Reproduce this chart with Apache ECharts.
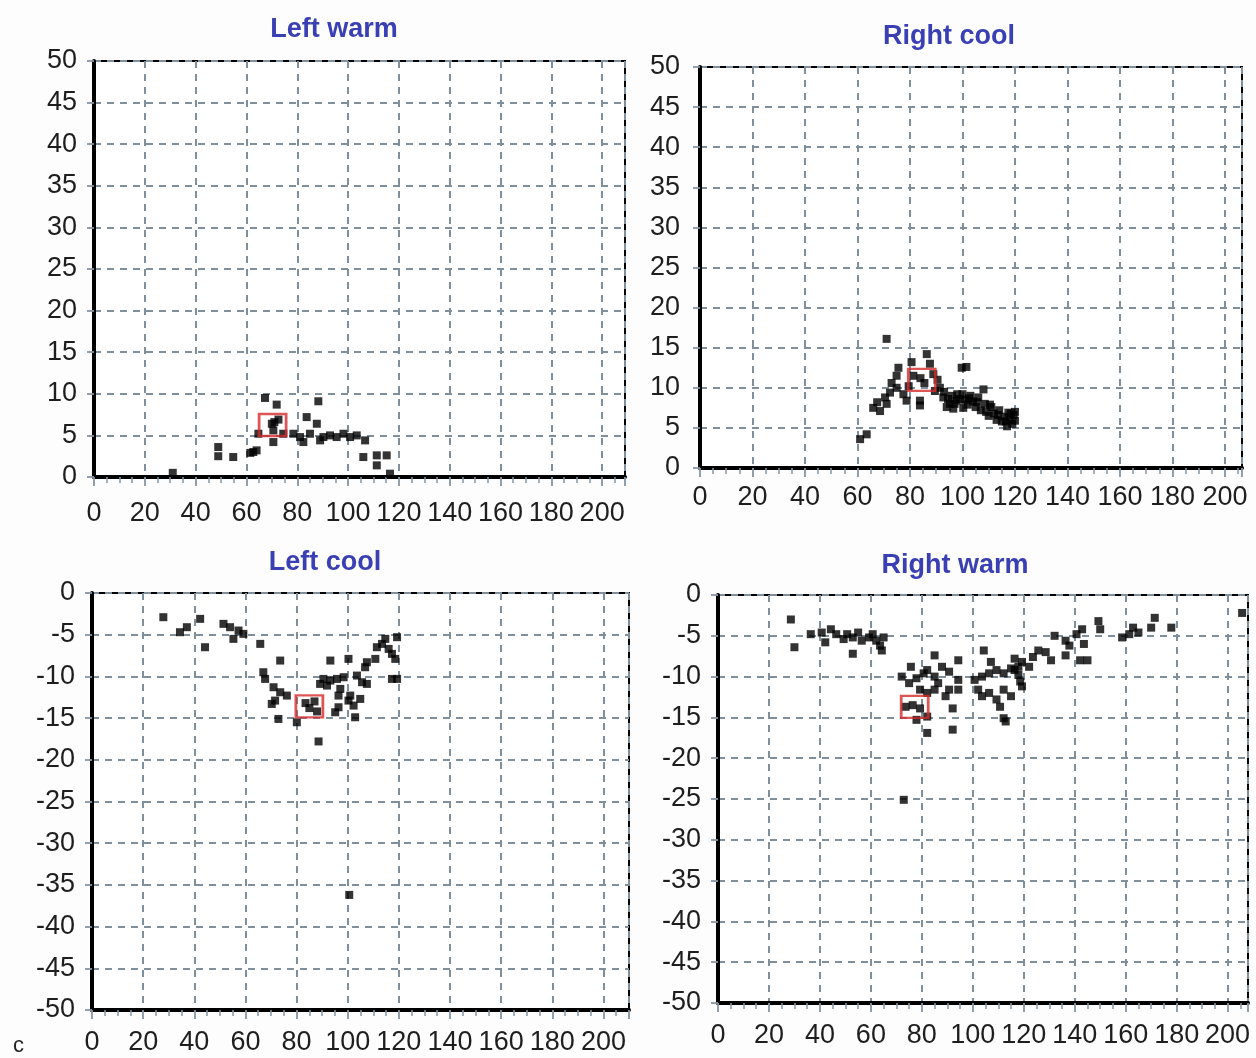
<!DOCTYPE html>
<html>
<head>
<meta charset="utf-8">
<script src="https://cdn.jsdelivr.net/npm/echarts@6/dist/echarts.min.js"></script>
<style>
html,body{margin:0;padding:0;background:#fdfdfd;}
#c{width:1256px;height:1058px;}
</style>
</head>
<body>
<div id="c"></div>
<script>
// ---------- DATA ----------
const panelTitles = ['Left warm', 'Right cool', 'Left cool', 'Right warm'];
const xTicks = [0, 20, 40, 60, 80, 100, 120, 140, 160, 180, 200];

const leftWarm = [
  [31, 0.5], [48.9, 3.6], [48.9, 2.5], [54.8, 2.4], [61.5, 2.9], [62.7, 3.0], [64, 3.2],
  [67.3, 9.5], [71.9, 8.7], [64.7, 5.2], [70, 6.4], [72.6, 6.9], [70.6, 5.6], [70.6, 4.2],
  [71, 6.6], [74.5, 5.2], [78.5, 5.2], [81.1, 4.8], [82.4, 4.2], [85, 5.2], [83.7, 7.2],
  [87.7, 6.4], [88.3, 9.1], [89, 4.4], [90.3, 4.8], [92.9, 5.0], [95.5, 4.8], [98.2, 5.2],
  [100.8, 4.8], [103.4, 5.0], [106.7, 4.4], [106, 2.4], [111.3, 2.6], [115.2, 2.6],
  [111.3, 1.4], [116.5, 0.4]
];
const rightCool = [
  [71.1, 16.1], [61, 3.6], [63.5, 4.2], [66, 7.5], [68.6, 7.1], [71.1, 8.0], [70.5, 8.8],
  [72.4, 9.4], [74.9, 10], [74.9, 11.5], [75.6, 12.5], [77.5, 9.2], [78.7, 8.4], [80.6, 13.2],
  [81.3, 11.5], [83.8, 8.4], [83.8, 7.8], [86.4, 14.2], [87.6, 13], [88.9, 11.7], [84, 11.2],
  [85.5, 10.6], [91.4, 10], [92.7, 8.8], [95.2, 8.0], [97.8, 8.4], [100.3, 7.5], [99.7, 12.5],
  [101.5, 12.6], [93, 9.5], [94, 7.6], [96, 9.0], [97, 8.0], [98, 9.2], [99, 8.6],
  [100, 9.2], [101, 8.5], [102, 7.9], [103, 9.0], [104, 8.3], [105, 7.6], [106, 8.8],
  [107, 7.2], [108, 9.8], [108.5, 8.0], [109, 7.0], [110, 6.5], [111, 7.6], [112, 6.8],
  [113, 6.0], [114, 7.2], [115, 5.8], [116, 6.4], [117, 5.2], [117.5, 6.9], [118, 6.0],
  [119, 5.5], [119.5, 6.6], [120, 5.9], [120, 7.0], [67.5, 8.2], [73, 10.6], [79.5, 10.2],
  [89.5, 9.6], [90.5, 11.0], [94.5, 8.6], [96.5, 7.4], [102.5, 8.7], [105.5, 8.2], [110.5, 7.9],
  [113.5, 6.6], [116.5, 5.8], [118.5, 6.8]
];
const leftCool = [
  [27.9, -2.9], [34.4, -4.7], [37.1, -4.1], [42.3, -3.1], [44.2, -6.5], [51.4, -3.7], [54, -4.1],
  [55.3, -5.5], [57.3, -4.5], [59.2, -4.9], [65.8, -6.1], [67, -9.5], [67.7, -10.3], [73.6, -8.1],
  [71, -11.3], [73.6, -11.9], [76.2, -12.3], [70.3, -13.3], [71.6, -12.9], [72.9, -15.1],
  [80.1, -15.5], [83.5, -13.2], [85, -13.8], [87, -13.0], [88, -14.2], [88.6, -17.8],
  [89.2, -10.9], [90.5, -10.3], [91.9, -11.1], [93.2, -10.5], [93.2, -8.1], [95.8, -10.3],
  [97.1, -11.5], [98.4, -10.1], [96.4, -12.3], [95.1, -14.3], [96.4, -13.7], [100.3, -7.9],
  [101, -12.3], [100.3, -12.9], [102.3, -13.5], [102.9, -14.9], [103.6, -9.9], [105.6, -10.7],
  [104.9, -12.7], [107.5, -10.9], [106.8, -8.9], [107.5, -8.3], [110.8, -7.9], [111.4, -6.5],
  [113.4, -6.1], [114.7, -5.5], [116, -6.7], [117.3, -7.3], [118.6, -7.9], [119.3, -5.3],
  [117.3, -10.3], [119.3, -10.3], [100.6, -36.2]
];
const rightWarm = [
  [28.6, -3.0], [30, -6.4], [36.4, -4.8], [40.7, -4.6], [42.1, -5.8], [44.3, -4.2], [46.4, -4.8],
  [49.3, -5.4], [50.7, -4.8], [52.9, -5.2], [55, -4.6], [56.4, -5.6], [59.3, -5.2], [60.7, -4.8],
  [62.1, -5.6], [63.6, -6.2], [65, -5.2], [64.3, -6.8], [52.9, -7.2], [85, -7.4], [94.3, -8.0],
  [104.3, -6.8], [75.7, -8.8], [72.1, -10.0], [75, -10.8], [77.9, -10.2], [80.7, -9.6],
  [82.1, -9.2], [85, -10.0], [87.9, -8.8], [90.7, -9.4], [86.4, -10.8], [90.7, -11.6],
  [94.3, -10.4], [94.3, -11.6], [79.3, -11.6], [82.1, -12.0], [85, -11.6], [73.6, -13.7],
  [76.4, -13.5], [79.3, -13.9], [77.9, -15.3], [82.1, -14.9], [82.1, -16.9], [92.1, -16.5],
  [89.3, -12.4], [92.1, -13.9], [72.9, -25.1], [100.7, -10.4], [103.6, -10.0], [106.4, -9.6],
  [109.3, -9.2], [112.1, -9.6], [115, -9.0], [116.4, -9.2], [117.9, -9.8], [102.1, -11.6],
  [103.6, -12.4], [106.4, -12.0], [109.3, -12.8], [110.7, -13.7], [112.1, -11.6], [115, -12.4],
  [112.9, -15.5], [112.1, -15.1], [107.1, -8.2], [116.4, -7.8], [117.9, -8.8], [119.3, -8.2],
  [122.1, -8.8], [123.6, -7.6], [125.7, -6.8], [128.6, -7.0], [130.7, -8.0], [118.6, -10.6],
  [119.3, -11.2], [132.1, -5.0], [136.4, -5.6], [137.9, -6.2], [140.7, -4.8], [142.9, -4.2],
  [143.6, -6.0], [142.1, -8.0], [145, -8.0], [149.3, -3.2], [150, -4.2], [136.4, -7.4],
  [158.6, -5.2], [161.4, -4.8], [162.9, -4.0], [165, -4.6], [170, -4.0], [171.4, -2.8],
  [177.9, -4.0], [205.7, -2.2]
];
const panelMeans = [[70.3, 6.25], [84.5, 11.0], [85, -13.6], [77.2, -13.7]];
const panelSeries = [leftWarm, rightCool, leftCool, rightWarm];
const yRanges = [[0, 50], [0, 50], [-50, 0], [-50, 0]];
const xMaxes = [209, 206.5, 210, 208];

// ---------- LAYOUT ----------
const grids = [
  {left: 94, top: 61, width: 531, height: 416},
  {left: 700, top: 67, width: 542, height: 401},
  {left: 92, top: 593, width: 537, height: 417},
  {left: 718, top: 595, width: 530, height: 408}
];
const titlePos = [[329, 11], [944, 18], [320, 544], [950, 547]];
const xLabelMargin = [23, 16, 19, 19];
const yLabelMargin = [17, 20, 17, 17];
const FONT = "'Liberation Sans', Arial, sans-serif";
const gridLine = {color: '#7f8f9c', width: 2, type: [7, 6]};

const option = {
  backgroundColor: '#fdfdfd',
  animation: false,
  title: panelTitles.map((t, i) => ({
    text: t, left: titlePos[i][0], top: titlePos[i][1], textAlign: 'center',
    textStyle: {color: '#3a40b4', fontFamily: FONT, fontSize: 27, fontWeight: 'bold'}
  })).concat([{text: 'c', left: 8, top: 1030,
    textStyle: {color: '#222', fontFamily: FONT, fontSize: 22, fontWeight: 'normal'}}]),
  grid: grids.map(g => Object.assign({show: true, borderColor: '#000', borderWidth: 2, backgroundColor: '#fff'}, g)),
  xAxis: grids.map((g, i) => ({
    gridIndex: i, type: 'value', min: 0, max: xMaxes[i], interval: 20, position: 'bottom',
    axisLine: {show: true, onZero: false, lineStyle: {color: '#000', width: 4}},
    axisTick: {show: true, length: 9, lineStyle: {color: '#8796a3', width: 1.8}},
    minorTick: {show: true, splitNumber: 4, length: 6, lineStyle: {color: '#8796a3', width: 1.5}},
    splitLine: {show: true, lineStyle: gridLine},
    axisLabel: {show: true, showMaxLabel: false, margin: xLabelMargin[i], color: '#1e1e1e', fontFamily: FONT, fontSize: 27,
      formatter: v => xTicks.includes(v) ? String(v) : ''}
  })),
  yAxis: grids.map((g, i) => ({
    gridIndex: i, type: 'value', min: yRanges[i][0], max: yRanges[i][1], interval: 5,
    axisLine: {show: true, onZero: false, lineStyle: {color: '#000', width: 4}},
    axisTick: {show: true, length: 7, lineStyle: {color: '#8796a3', width: 1.8}},
    splitLine: {show: true, lineStyle: gridLine},
    axisLabel: {show: true, margin: yLabelMargin[i], color: '#1e1e1e', fontFamily: FONT, fontSize: 27}
  })),
  series: panelSeries.map((d, i) => ({
    type: 'scatter', xAxisIndex: i, yAxisIndex: i, data: d,
    symbol: 'rect', symbolSize: 8, itemStyle: {color: '#000'}, z: 3
  })).concat(panelMeans.map((m, i) => ({
    type: 'scatter', xAxisIndex: i, yAxisIndex: i, data: [m],
    symbol: 'rect', symbolSize: [27, 22],
    itemStyle: {color: 'rgba(0,0,0,0)', borderColor: '#d42a2a', borderWidth: 2.5}, z: 4
  })))
};

const chart = echarts.init(document.getElementById('c'), null, {renderer: 'canvas'});
chart.setOption(option);
</script>
</body>
</html>
